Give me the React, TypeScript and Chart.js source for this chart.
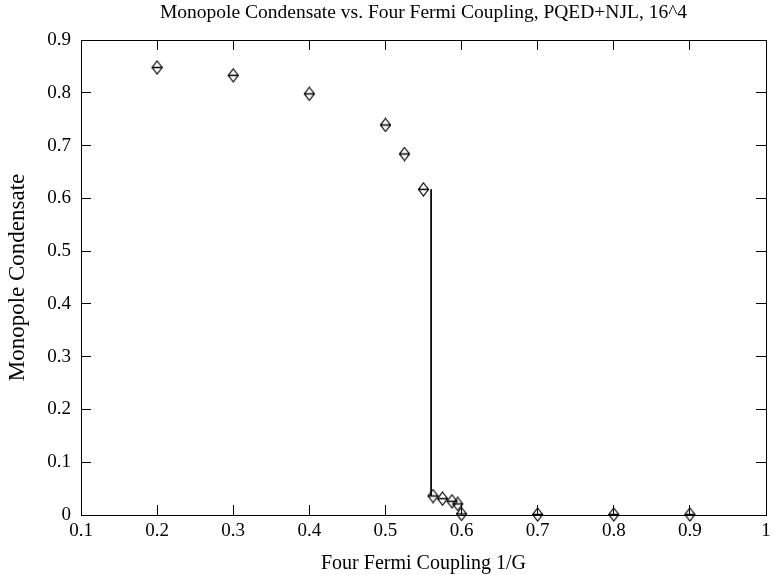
import React, { useEffect, useRef } from "react";
import { Chart, registerables } from "chart.js";

Chart.register(...registerables);

const chartTitle = "Monopole Condensate vs. Four Fermi Coupling, PQED+NJL, 16^4";
const xAxisTitle = "Four Fermi Coupling 1/G";
const yAxisTitle = "Monopole Condensate";

const couplingX = [0.2, 0.3, 0.4, 0.5, 0.525, 0.55, 0.5625, 0.575, 0.5875, 0.595, 0.6, 0.7, 0.8, 0.9];
const condensateY = [0.848, 0.833, 0.798, 0.739, 0.684, 0.617, 0.036, 0.031, 0.026, 0.021, 0.002, 0.001, 0.001, 0.001];
const jumpX = [0.56, 0.56];
const jumpY = [0.617, 0.036];
const xTicks = [0.1, 0.2, 0.3, 0.4, 0.5, 0.6, 0.7, 0.8, 0.9, 1.0];
const yTicks = [0, 0.1, 0.2, 0.3, 0.4, 0.5, 0.6, 0.7, 0.8, 0.9];

const FONT = "'Liberation Serif', 'Times New Roman', serif";

function makeDiamond(): HTMLCanvasElement {
  const c = document.createElement("canvas");
  c.width = 15;
  c.height = 15;
  const ctx = c.getContext("2d")!;
  ctx.strokeStyle = "#000";
  ctx.lineWidth = 1.2;
  ctx.beginPath();
  ctx.moveTo(7.5, 1);
  ctx.lineTo(12.5, 7.5);
  ctx.lineTo(7.5, 14);
  ctx.lineTo(2.5, 7.5);
  ctx.closePath();
  ctx.stroke();
  ctx.lineWidth = 1.5;
  ctx.beginPath();
  ctx.moveTo(2, 7.5);
  ctx.lineTo(13, 7.5);
  ctx.stroke();
  return c;
}

const fmt = (v: number) => String(Number(Number(v).toFixed(1)));

const titlePlugin = {
  id: "topTitle",
  afterDraw(chart: any) {
    const ctx = chart.ctx as CanvasRenderingContext2D;
    const { left, right } = chart.chartArea;
    ctx.save();
    ctx.fillStyle = "#000";
    ctx.font = `19.5px ${FONT}`;
    ctx.textAlign = "center";
    ctx.textBaseline = "middle";
    ctx.fillText(chartTitle, (left + right) / 2, 13);
    ctx.restore();
  },
};

const TL = 10;

const gridOpts = {
  display: true,
  drawOnChartArea: false,
  drawTicks: true,
  tickLength: -TL,
  color: "#000",
  lineWidth: 1,
};
const borderOpts = { display: true, color: "#000", width: 1 };

export default function App() {
  const ref = useRef<HTMLCanvasElement | null>(null);
  useEffect(() => {
    if (!ref.current) return;
    const diamond = makeDiamond();
    const chart = new Chart(ref.current, {
      type: "scatter",
      data: {
        datasets: [
          {
            label: "condensate",
            data: couplingX.map((x, i) => ({ x, y: condensateY[i] })),
            pointStyle: diamond as any,
            pointRadius: 7,
            showLine: false,
            borderColor: "#000",
            backgroundColor: "#000",
            clip: false as any,
            xAxisID: "x",
            yAxisID: "y",
          },
          {
            label: "jump",
            data: jumpX.map((x, i) => ({ x, y: jumpY[i] })),
            showLine: true,
            pointRadius: 0,
            borderColor: "#000",
            borderWidth: 1,
            clip: false as any,
            xAxisID: "x",
            yAxisID: "y",
          },
        ],
      },
      options: {
        animation: false,
        responsive: true,
        maintainAspectRatio: false,
        layout: { padding: { top: 40, right: 4, left: 0, bottom: 0 } },
        plugins: {
          legend: { display: false },
          tooltip: { enabled: false },
          title: { display: false },
        },
        scales: {
          x: {
            type: "linear",
            position: "bottom",
            min: 0.1,
            max: 1.0,
            afterBuildTicks: (s: any) => {
              s.ticks = xTicks.map((v) => ({ value: v }));
            },
            afterFit: (s: any) => {
              s.height = 60;
              s.paddingLeft = 0;
              s.paddingRight = 0;
            },
            grid: gridOpts,
            border: borderOpts,
            ticks: {
              color: "#000",
              padding: 5 + TL,
              font: { family: FONT, size: 19 },
              callback: (v: any) => fmt(v),
              maxRotation: 0,
              autoSkip: false,
            },
            title: {
              display: true,
              text: xAxisTitle,
              color: "#000",
              font: { family: FONT, size: 20 },
              padding: { top: 0, bottom: -1 },
            },
          },
          x2: {
            type: "linear",
            position: "top",
            min: 0.1,
            max: 1.0,
            afterBuildTicks: (s: any) => {
              s.ticks = xTicks.map((v) => ({ value: v }));
            },
            afterFit: (s: any) => {
              s.height = 0;
              s.paddingLeft = 0;
              s.paddingRight = 0;
            },
            grid: gridOpts,
            border: borderOpts,
            ticks: { display: false },
          },
          y: {
            type: "linear",
            position: "left",
            min: 0,
            max: 0.9,
            afterBuildTicks: (s: any) => {
              s.ticks = yTicks.map((v) => ({ value: v }));
            },
            afterFit: (s: any) => {
              s.width = 81;
            },
            grid: gridOpts,
            border: borderOpts,
            ticks: {
              color: "#000",
              padding: 10 + TL,
              font: { family: FONT, size: 19 },
              callback: (v: any) => fmt(v),
              autoSkip: false,
            },
            title: {
              display: true,
              text: yAxisTitle,
              color: "#000",
              font: { family: FONT, size: 23 },
              padding: { top: 4, bottom: 0 },
            },
          },
          y2: {
            type: "linear",
            position: "right",
            min: 0,
            max: 0.9,
            afterBuildTicks: (s: any) => {
              s.ticks = yTicks.map((v) => ({ value: v }));
            },
            afterFit: (s: any) => {
              s.width = 0;
            },
            grid: gridOpts,
            border: borderOpts,
            ticks: { display: false },
          },
        },
      },
      plugins: [titlePlugin],
    });
    return () => chart.destroy();
  }, []);
  return (
    <div style={{ position: "absolute", left: 0, top: 0, width: 774, height: 575, background: "#fff" }}>
      <canvas ref={ref} />
    </div>
  );
}
